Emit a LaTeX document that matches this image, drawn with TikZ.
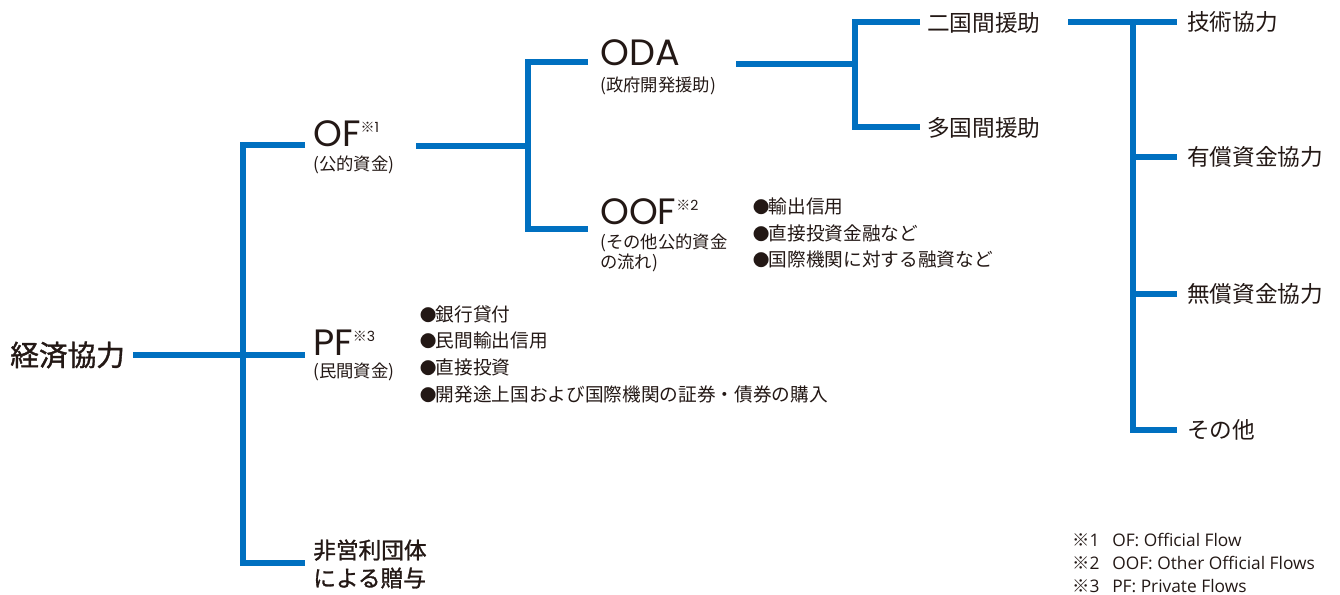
\documentclass[tikz,border=0pt]{standalone}
\usepackage{fontspec}
\setmainfont{Noto Sans CJK JP}
\newfontfamily\cjk{Noto Sans CJK JP}
\newfontfamily\cjkb[FakeBold=1.2]{Noto Sans CJK JP}
\newfontfamily\lat{Poppins}
\newfontfamily\footlat{Open Sans}
\definecolor{jblue}{RGB}{0,112,192}
\definecolor{ink}{RGB}{35,24,21}
\newcommand\komeA[1]{\raisebox{11pt}{\fontsize{10.5}{10.5}\selectfont{\cjk ※}{\lat #1}}}
\newcommand\fn[2]{\makebox[30pt][l]{{\cjk ※}{\footlat #1}}{\footlat #2}}
\newcommand\bu{\makebox[11pt][l]{\hspace{-1pt}{\fontsize{12.5}{12.5}\selectfont ●}}}
\begin{document}
\begin{tikzpicture}[x=0.75pt,y=-0.75pt,
  link/.style={draw=jblue,line width=4.5pt,line join=miter},
  lbl/.style={inner sep=0pt,anchor=west,text=ink},
  big/.style={lbl,anchor=base west,font=\lat\fontsize{27.5}{28}\selectfont},
  sub/.style={lbl,font=\fontsize{13}{15.5}\selectfont,align=left},
  item/.style={lbl,font=\fontsize{17}{20}\selectfont},
  head/.style={lbl,font=\cjkb\fontsize{17}{21}\selectfont,align=left},
  bul/.style={lbl,font=\fontsize{14}{20}\selectfont,align=left},
  fnote/.style={lbl,font=\fontsize{13}{17.25}\selectfont,align=left}]
\useasboundingbox (0,0) rectangle (1340,595);

% ---- text nodes ----
\node[lbl,font=\cjkb\fontsize{21.5}{24}\selectfont] (kz) at (10,355) {経済協力};
\node[big] (of) at (313,147) {OF\komeA{1}};
\node[sub] (ofsub) at (313,165) {(公的資金)};
\node[big] (pf) at (313,356) {PF\komeA{3}};
\node[sub] (pfsub) at (313,372) {(民間資金)};
\node[head] (npo) at (313,564) {非営利団体\\による贈与};
\node[big] (oda) at (600,66) {ODA};
\node[sub] (odasub) at (600,86) {(政府開発援助)};
\node[big] (oof) at (600,225) {OOF\komeA{2}};
\node[sub] (oofsub) at (600,253) {(その他公的資金\\の流れ)};
\node[bul] (oofbul) at (754,233) {\bu 輸出信用\\\bu 直接投資金融など\\\bu 国際機関に対する融資など};
\node[bul] (pfbul) at (421,354) {\bu 銀行貸付\\\bu 民間輸出信用\\\bu 直接投資\\\bu 開発途上国および国際機関の証券・債券の購入};
\node[item] (bi) at (927,23) {二国間援助};
\node[item] (multi) at (927,128) {多国間援助};
\node[item] (tech) at (1187,22) {技術協力};
\node[item] (loan) at (1187,157) {有償資金協力};
\node[item] (grant) at (1187,294) {無償資金協力};
\node[item] (other) at (1187,430) {その他};
\node[fnote] (notes) at (1072,563) {\fn{1}{OF: Official Flow}\\\fn{2}{OOF: Other Official Flows}\\\fn{3}{PF: Private Flows}};

% ---- connector points ----
\coordinate (kzR) at (133,355);
\coordinate (pfL) at (305,355);
\coordinate (ofL) at (305,145);
\coordinate (mTop) at (243,145);
\coordinate (mBot) at (243,563);
\coordinate (npoL) at (305,563);
\coordinate (ofR) at (416,146);
\coordinate (oJ) at (528,146);
\coordinate (odaL) at (588,62);
\coordinate (oTop) at (528,62);
\coordinate (oBot) at (528,229);
\coordinate (oofL) at (588,229);
\coordinate (odaR) at (736,64);
\coordinate (bJ) at (855,64);
\coordinate (biL) at (920,22);
\coordinate (bTop) at (855,22);
\coordinate (bBot) at (855,127);
\coordinate (multiL) at (920,127);
\coordinate (biR) at (1068,22);
\coordinate (techL) at (1177,22);
\coordinate (tTop) at (1133,22);
\coordinate (tBot) at (1133,430);
\coordinate (otherL) at (1177,430);
\coordinate (t2) at (1133,157);
\coordinate (loanL) at (1177,157);
\coordinate (t3) at (1133,294);
\coordinate (grantL) at (1177,294);

% ---- connectors ----
\draw[link] (kzR) -- (pfL);
\draw[link] (ofL) -- (mTop) -- (mBot) -- (npoL);
\draw[link] (ofR) -- (oJ);
\draw[link] (odaL) -- (oTop) -- (oBot) -- (oofL);
\draw[link] (odaR) -- (bJ);
\draw[link] (biL) -- (bTop) -- (bBot) -- (multiL);
\draw[link] (biR) -- (techL);
\draw[link] (tTop) -- (tBot) -- (otherL);
\draw[link] (t2) -- (loanL);
\draw[link] (t3) -- (grantL);
\end{tikzpicture}
\end{document}
